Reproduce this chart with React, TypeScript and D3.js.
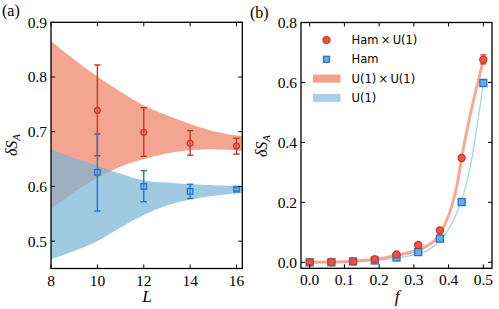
import React from "react";
import * as d3 from "d3";

// ---------- Panel (a) data ----------
const L_vals = [10, 12, 14, 16];
const hamU1_L = [0.739, 0.699, 0.679, 0.674];
const hamU1_L_lo = [0.656, 0.655, 0.657, 0.659];
const hamU1_L_hi = [0.822, 0.744, 0.702, 0.688];
const ham_L = [0.626, 0.6, 0.591, 0.595];
const ham_L_lo = [0.555, 0.572, 0.578, 0.592];
const ham_L_hi = [0.696, 0.629, 0.604, 0.598];

const bandL = [8, 9, 10, 11, 12, 13, 14, 15, 16.25];
const u1u1Upper = [0.866, 0.832, 0.801, 0.773, 0.748, 0.73, 0.714, 0.701, 0.692];
const u1u1Lower = [0.559, 0.59, 0.616, 0.636, 0.65, 0.66, 0.666, 0.668, 0.665];
const u1Upper = [0.668, 0.652, 0.638, 0.623, 0.611, 0.607, 0.604, 0.602, 0.6];
const u1Lower = [0.467, 0.482, 0.5, 0.525, 0.548, 0.565, 0.576, 0.583, 0.588];

const aXTicks = [8, 10, 12, 14, 16];
const aYTicks = [0.5, 0.6, 0.7, 0.8, 0.9];

// ---------- Panel (b) data ----------
const f_vals = [0, 0.0625, 0.125, 0.1875, 0.25, 0.3125, 0.375, 0.4375, 0.5];
const hamU1_f = [0.0, 0.001, 0.003, 0.01, 0.026, 0.058, 0.106, 0.348, 0.676];
const hamU1_f_lo = [0.0, 0.001, 0.003, 0.01, 0.026, 0.058, 0.106, 0.344, 0.662];
const hamU1_f_hi = [0.0, 0.001, 0.003, 0.01, 0.026, 0.058, 0.106, 0.352, 0.692];
const ham_f = [0.0, 0.0, 0.003, 0.006, 0.016, 0.034, 0.079, 0.201, 0.598];
const ham_f_lo = [0.0, 0.0, 0.003, 0.006, 0.016, 0.034, 0.079, 0.199, 0.587];
const ham_f_hi = [0.0, 0.0, 0.003, 0.006, 0.016, 0.034, 0.079, 0.203, 0.61];

const u1u1CurveF = [0, 0.05, 0.1, 0.15, 0.2, 0.25, 0.3, 0.34, 0.37, 0.39, 0.41, 0.425, 0.4375, 0.5];
const u1u1CurveV = [0, 0.001, 0.002, 0.006, 0.012, 0.023, 0.037, 0.056, 0.085, 0.128, 0.19, 0.262, 0.348, 0.673];
const u1CurveF = [0, 0.1, 0.2, 0.25, 0.3, 0.34, 0.375, 0.4, 0.42, 0.44, 0.46, 0.5];
const u1CurveV = [0, 0.001, 0.007, 0.015, 0.025, 0.04, 0.072, 0.11, 0.155, 0.215, 0.305, 0.597];

const bXTicks = [0, 0.1, 0.2, 0.3, 0.4, 0.5];
const bYTicks = [0, 0.2, 0.4, 0.6, 0.8];

const legendLabels = ["Ham\u2009\u00d7\u2009U(1)", "Ham", "U(1)\u2009\u00d7\u2009U(1)", "U(1)"];

// ---------- styles ----------
const SERIF = "'Liberation Serif', 'DejaVu Serif', serif";
const SANS = "'DejaVu Sans', 'Liberation Sans', sans-serif";
const RED_DARK = "#c8372b";
const BLUE_DARK = "#2375cc";
const RED_BAND = "#f4a592";
const BLUE_BAND_C = "rgb(119,179,214)";
const RED_LINE = "#f5a08c";
const BLUE_LINE = "#a8d0e8";
const RED_MARK = "#e8553f";
const BLUE_MARK = "#6aaedf";

function Frame({ x, y, xTicks, yTicks, xFmt, yFmt }: any) {
  const [x0, x1] = x.range();
  const [y0, y1] = y.range(); // y0 bottom, y1 top
  const tl = 4;
  return (
    <g>
      {xTicks.map((t: number, i: number) => (
        <g key={"xt" + i}>
          <line x1={x(t)} x2={x(t)} y1={y0} y2={y0 - tl} stroke="#000" strokeWidth={1} />
          <line x1={x(t)} x2={x(t)} y1={y1} y2={y1 + tl} stroke="#000" strokeWidth={1} />
          <text x={x(t)} y={y0 + 17} textAnchor="middle" fontFamily={SERIF} fontSize={15.5}>
            {xFmt(t)}
          </text>
        </g>
      ))}
      {yTicks.map((t: number, i: number) => (
        <g key={"yt" + i}>
          <line x1={x0} x2={x0 + tl} y1={y(t)} y2={y(t)} stroke="#000" strokeWidth={1} />
          <line x1={x1} x2={x1 - tl} y1={y(t)} y2={y(t)} stroke="#000" strokeWidth={1} />
          <text x={x0 - 4} y={y(t)} dy="0.35em" textAnchor="end" fontFamily={SERIF} fontSize={15.5}>
            {yFmt(t)}
          </text>
        </g>
      ))}
      <rect x={x0} y={y1} width={x1 - x0} height={y0 - y1} fill="none" stroke="#000" strokeWidth={1.3} />
    </g>
  );
}

function ErrorBar({ x, lo, hi, color, cap = 3.2, w = 1.4 }: any) {
  return (
    <g stroke={color} strokeWidth={w}>
      <line x1={x} x2={x} y1={lo} y2={hi} />
      <line x1={x - cap} x2={x + cap} y1={lo} y2={lo} />
      <line x1={x - cap} x2={x + cap} y1={hi} y2={hi} />
    </g>
  );
}

function YLabel({ x, y }: any) {
  return (
    <text transform={`translate(${x},${y}) rotate(-90)`} textAnchor="middle" fontFamily={SERIF} fontSize={16} fontStyle="italic">
      δS<tspan fontSize={11} dy={3}>A</tspan>
    </text>
  );
}

export default function App() {
  // Panel (a)
  const xa = d3.scaleLinear().domain([8, 16.25]).range([51, 242.3]);
  const ya = d3.scaleLinear().domain([0.45, 0.9]).range([268.5, 22.3]);
  const redBand = d3
    .area<number>()
    .x((_, i) => xa(bandL[i]))
    .y0((_, i) => ya(u1u1Lower[i]))
    .y1((_, i) => ya(u1u1Upper[i]))
    .curve(d3.curveMonotoneX)(bandL);
  const blueBand = d3
    .area<number>()
    .x((_, i) => xa(bandL[i]))
    .y0((_, i) => ya(u1Lower[i]))
    .y1((_, i) => ya(u1Upper[i]))
    .curve(d3.curveMonotoneX)(bandL);

  // Panel (b)
  const xb = d3.scaleLinear().domain([-0.025, 0.525]).range([301, 492]);
  const yb = d3.scaleLinear().domain([-0.02, 0.8]).range([268.3, 22.5]);
  const redCurve = d3
    .line<number>()
    .x((d) => xb(d))
    .y((_, i) => yb(u1u1CurveV[i]))
    .curve(d3.curveMonotoneX)(u1u1CurveF);
  const blueCurve = d3
    .line<number>()
    .x((d) => xb(d))
    .y((_, i) => yb(u1CurveV[i]))
    .curve(d3.curveMonotoneX)(u1CurveF);

  const legX = 313;
  const legY0 = 40;
  const legDy = 19.3;

  return (
    <svg width={499} height={309} style={{ position: "absolute", left: 0, top: 0, background: "#fff" }}>
      <defs>
        <clipPath id="clipA">
          <rect x={51} y={22.3} width={191.3} height={246.2} />
        </clipPath>
        <clipPath id="clipB">
          <rect x={301} y={22.5} width={191} height={245.8} />
        </clipPath>
      </defs>

      {/* ---------- Panel (a) ---------- */}
      <g clipPath="url(#clipA)">
        <path d={redBand || ""} fill={RED_BAND} />
        <path d={blueBand || ""} fill={BLUE_BAND_C} fillOpacity={0.7} />
      </g>
      {L_vals.map((L, i) => (
        <g key={"ra" + i}>
          <ErrorBar x={xa(L)} lo={ya(hamU1_L_lo[i])} hi={ya(hamU1_L_hi[i])} color={RED_DARK} />
          <circle cx={xa(L)} cy={ya(hamU1_L[i])} r={2.9} fill="rgba(232,85,63,0.35)" stroke={RED_DARK} strokeWidth={1.3} />
        </g>
      ))}
      {L_vals.map((L, i) => (
        <g key={"ba" + i}>
          <ErrorBar x={xa(L)} lo={ya(ham_L_lo[i])} hi={ya(ham_L_hi[i])} color={BLUE_DARK} />
          <rect x={xa(L) - 2.8} y={ya(ham_L[i]) - 2.8} width={5.6} height={5.6} fill="rgba(106,174,223,0.35)" stroke={BLUE_DARK} strokeWidth={1.3} />
        </g>
      ))}
      <Frame x={xa} y={ya} xTicks={aXTicks} yTicks={aYTicks} xFmt={(t: number) => String(t)} yFmt={d3.format(".1f")} />
      <YLabel x={17} y={145} />
      <text x={147} y={302} textAnchor="middle" fontFamily={SERIF} fontSize={17} fontStyle="italic">L</text>
      <text x={2} y={16} fontFamily={SERIF} fontSize={16}>(a)</text>

      {/* ---------- Panel (b) ---------- */}
      <g clipPath="url(#clipB)">
        <path d={blueCurve || ""} fill="none" stroke={BLUE_LINE} strokeWidth={1.3} />
        <path d={redCurve || ""} fill="none" stroke={RED_LINE} strokeWidth={3} strokeOpacity={0.9} />
        {f_vals.map((f, i) => (
          <g key={"bb" + i}>
            <ErrorBar x={xb(f)} lo={yb(ham_f_lo[i])} hi={yb(ham_f_hi[i])} color={BLUE_DARK} cap={3} w={1.2} />
            <rect x={xb(f) - 3.5} y={yb(ham_f[i]) - 3.5} width={7} height={7} fill={BLUE_MARK} stroke={BLUE_DARK} strokeWidth={1.3} />
          </g>
        ))}
        {f_vals.map((f, i) => (
          <g key={"rb" + i}>
            <ErrorBar x={xb(f)} lo={yb(hamU1_f_lo[i])} hi={yb(hamU1_f_hi[i])} color={RED_DARK} cap={3} w={1.2} />
            <circle cx={xb(f)} cy={yb(hamU1_f[i])} r={3.6} fill={RED_MARK} stroke={RED_DARK} strokeWidth={1.2} />
          </g>
        ))}
      </g>
      <Frame x={xb} y={yb} xTicks={bXTicks} yTicks={bYTicks} xFmt={d3.format(".1f")} yFmt={d3.format(".1f")} />
      <YLabel x={267} y={146} />
      <text x={397} y={302} textAnchor="middle" fontFamily={SERIF} fontSize={17} fontStyle="italic">f</text>
      <text x={250} y={18} fontFamily={SERIF} fontSize={16}>(b)</text>

      {/* legend */}
      <g fontFamily={SANS} fontSize={11.5}>
        <circle cx={legX + 13.5} cy={legY0} r={3.5} fill={RED_MARK} stroke={RED_DARK} strokeWidth={1.2} />
        <text x={legX + 38.5} y={legY0} dy="0.36em">{legendLabels[0]}</text>
        <rect x={legX + 10.5} y={legY0 + legDy - 3} width={6} height={6} fill={BLUE_MARK} stroke={BLUE_DARK} strokeWidth={1.3} />
        <text x={legX + 38.5} y={legY0 + legDy} dy="0.36em">{legendLabels[1]}</text>
        <rect x={legX} y={legY0 + 2 * legDy - 4} width={27.5} height={8} fill={RED_LINE} />
        <text x={legX + 38.5} y={legY0 + 2 * legDy} dy="0.36em">{legendLabels[2]}</text>
        <rect x={legX} y={legY0 + 3 * legDy - 4} width={27.5} height={8} fill={BLUE_LINE} />
        <text x={legX + 38.5} y={legY0 + 3 * legDy} dy="0.36em">{legendLabels[3]}</text>
      </g>
    </svg>
  );
}
